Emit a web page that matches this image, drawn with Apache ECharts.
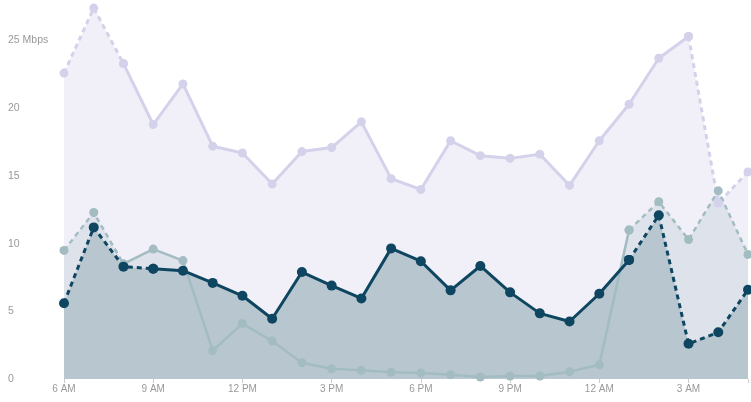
<!DOCTYPE html>
<html>
<head>
<meta charset="utf-8">
<script src="https://cdn.jsdelivr.net/npm/echarts@6/dist/echarts.min.js"></script>
<style>
  html, body { margin: 0; padding: 0; background: #ffffff; }
  #chart { width: 751px; height: 402px; }
</style>
</head>
<body>
<div id="chart"></div>
<script>
// Hourly throughput over one day, 6 AM through 5 AM.
const hours = ['6 AM', '7 AM', '8 AM', '9 AM', '10 AM', '11 AM', '12 PM', '1 PM', '2 PM', '3 PM',
  '4 PM', '5 PM', '6 PM', '7 PM', '8 PM', '9 PM', '10 PM', '11 PM', '12 AM', '1 AM', '2 AM',
  '3 AM', '4 AM', '5 AM'];

// Mbps per hour
const peakMbps = [22.6, 27.4, 23.3, 18.8, 21.8, 17.2, 16.7, 14.4, 16.8, 17.1, 19.0, 14.8,
  14.0, 17.6, 16.5, 16.3, 16.6, 14.3, 17.6, 20.3, 23.7, 25.3, 13.0, 15.3];
const backgroundMbps = [9.5, 12.3, 8.5, 9.6, 8.75, 2.1, 4.1, 2.8, 1.2, 0.75, 0.64, 0.5,
  0.45, 0.32, 0.15, 0.22, 0.22, 0.54, 1.05, 11.0, 13.1, 10.3, 13.9, 9.2];
const averageMbps = [5.6, 11.2, 8.3, 8.15, 8.0, 7.1, 6.15, 4.45, 7.9, 6.9, 5.95, 9.65,
  8.7, 6.55, 8.35, 6.4, 4.85, 4.25, 6.3, 8.8, 12.1, 2.6, 3.45, 6.6];

// Hours measured directly (solid); outside these spans the values are estimates (dashed).
const peakMeasured = [2, 21];
const backgroundMeasured = [2, 19];
const averageMeasured = [3, 19];

const yTicks = [0, 5, 10, 15, 20, 25];

function part(values, span, inside) {
  return values.map((v, i) => {
    const within = i >= span[0] && i <= span[1];
    const edge = i === span[0] || i === span[1];
    return (inside ? within : (!within || edge)) ? v : null;
  });
}

function areaSeries(values, color) {
  return {
    type: 'line', data: values, symbol: 'none', silent: true,
    lineStyle: { width: 0 }, areaStyle: { color: color, opacity: 1 }
  };
}

function lineSeries(values, span, color, width, size, dashed) {
  return {
    type: 'line',
    data: part(values, span, !dashed),
    connectNulls: false,
    symbol: 'circle', symbolSize: size, showSymbol: true,
    itemStyle: { color: color },
    lineStyle: { color: color, width: width, type: dashed ? [5, 4] : 'solid' },
    emphasis: { disabled: true }
  };
}

const chart = echarts.init(document.getElementById('chart'));
chart.setOption({
  animation: false,
  grid: { left: 64, right: 3, top: -2, bottom: 23 },
  xAxis: {
    type: 'category', data: hours, boundaryGap: false,
    axisLine: { show: false },
    axisTick: { show: true, length: 4, lineStyle: { color: '#cccccc' },
      interval: (i) => i % 3 === 0 || i === hours.length - 1 },
    axisLabel: { interval: (i) => i % 3 === 0, color: '#999999', fontSize: 10,
      fontFamily: 'Liberation Sans', margin: 5 },
    splitLine: { show: false }
  },
  yAxis: {
    type: 'value', min: 0, max: 28, interval: 5,
    axisLine: { show: false }, axisTick: { show: false }, splitLine: { show: false },
    axisLabel: {
      align: 'left', margin: 56, color: '#999999', fontSize: 10.5, fontFamily: 'Liberation Sans',
      formatter: (v) => yTicks.indexOf(v) < 0 ? '' : (v === 25 ? '25 Mbps' : String(v))
    }
  },
  series: [
    areaSeries(peakMbps, '#f1f0f8'),
    areaSeries(backgroundMbps, '#dee2eb'),
    areaSeries(averageMbps, '#b8c6cf'),
    lineSeries(peakMbps, peakMeasured, '#d3d2ea', 3, 9, false),
    lineSeries(peakMbps, peakMeasured, '#d3d2ea', 3, 9, true),
    lineSeries(backgroundMbps, backgroundMeasured, '#a3bcc2', 2.5, 9, false),
    lineSeries(backgroundMbps, backgroundMeasured, '#a3bcc2', 2.5, 9, true),
    lineSeries(averageMbps, averageMeasured, '#0e4560', 3, 10, false),
    lineSeries(averageMbps, averageMeasured, '#0e4560', 3, 10, true)
  ]
});
</script>
</body>
</html>
